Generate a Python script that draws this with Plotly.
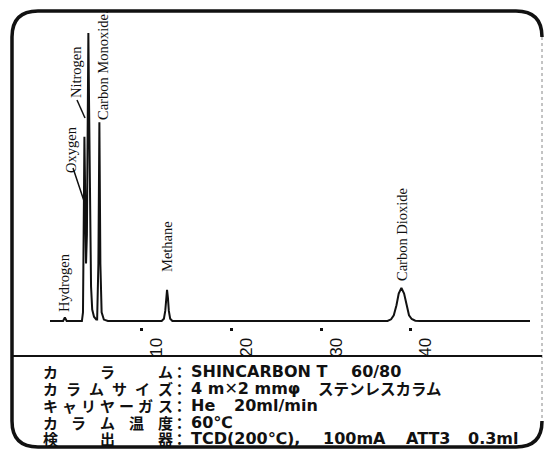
import plotly.graph_objects as go

# ---------------- data ----------------
time_min = [-0.3, 1.2, 1.4, 1.6, 3.3, 3.42, 3.52, 3.58, 3.66, 3.76, 3.86, 3.95, 4.02,
            4.1, 4.2, 4.32, 4.45, 4.65, 4.9, 5.0, 5.14, 5.25, 5.36, 5.5, 5.75, 6.2,
            12.2, 12.45, 12.6, 12.7, 12.8, 12.9, 13.0, 13.15, 13.4,
            37.4, 37.8, 38.1, 38.4, 38.65, 38.95, 39.25, 39.5, 39.8, 40.1, 40.5, 41.0, 53.3]
signal = [0, 0, 1.2, 0, 0, 3, 40, 64, 45, 20, 30, 85, 100,
          75, 35, 12, 4, 1.5, 0.5, 0.5, 20, 69, 20, 3, 0.5, 0,
          0, 0.8, 3.5, 8, 10.8, 8, 3.5, 0.8, 0,
          0, 0.6, 2, 5.5, 9.5, 11.5, 9.5, 5.5, 2, 0.7, 0.1, 0, 0]
assert len(time_min) == len(signal)

tick_vals = [10, 20, 30, 40]
tick_text = ["10", "20", "30", "40"]

peak_names = ["Hydrogen", "Oxygen", "Nitrogen", "Carbon Monoxide.", "Methane", "Carbon Dioxide"]

cond_labels = ["カラム", "カラムサイズ", "キャリヤーガス", "カラム温度", "検出器"]
cond_values = [["SHINCARBON T", "60/80"],
               ["4\u00a0m✕2\u00a0mmφ", "ステンレスカラム"],
               ["He", "20ml/min"],
               ["60℃"],
               ["TCD(200℃),", "100mA", "ATT3", "0.3ml"]]

# ---------------- layout geometry (pixels) ----------------
W, H = 545, 450
ML, MR, MT, MB = 50, 15, 20, 123
PW, PH = W - ML - MR, H - MT - MB


def px(x):
    return (x - ML) / PW


def py(y):
    return (H - MB - y) / PH


fig = go.Figure()
fig.add_trace(go.Scatter(x=time_min, y=signal, mode="lines",
                         line=dict(color="#111111", width=2), hoverinfo="skip",
                         showlegend=False))

ann = []
serif = dict(family="Liberation Serif, Times New Roman, serif", size=14.5, color="#111111")
label_pos = [(64, 283), (71, 150), (76, 72), (103, 65), (167, 247), (402, 235)]
for name, (lx, ly) in zip(peak_names, label_pos):
    ann.append(dict(x=px(lx), y=py(ly), xref="paper", yref="paper", text=name,
                    textangle=-90, showarrow=False, font=serif,
                    xanchor="center", yanchor="middle"))

# condition table
row_y = [371, 388, 405, 422, 438]
seg_x = [[190, 350], [190, 317], [190, 233], [190], [190, 322, 405, 467]]
jp = dict(family="Noto Sans CJK JP", size=15, color="#111111", weight="bold")
val_font = dict(family="DejaVu Sans, Noto Sans CJK JP", size=16, color="#111111", weight="bold")
jp_val = dict(family="Noto Sans CJK JP", size=15.5, color="#111111", weight="bold")
for lab, vals, xs, ry in zip(cond_labels, cond_values, seg_x, row_y):
    n = len(lab)
    x0, x1 = 50, 165
    for i, ch in enumerate(lab):
        cx = x0 + (x1 - x0) * i / (n - 1)
        ann.append(dict(x=px(cx), y=py(ry), xref="paper", yref="paper", text=ch,
                        showarrow=False, font=jp, xanchor="center", yanchor="middle",
                        borderpad=0))
    ann.append(dict(x=px(179), y=py(ry), xref="paper", yref="paper", text="：",
                    showarrow=False, font=jp, xanchor="center", yanchor="middle",
                    borderpad=0))
    for v, sx in zip(vals, xs):
        f = jp_val if v == "ステンレスカラム" else val_font
        ann.append(dict(x=px(sx), y=py(ry), xref="paper", yref="paper", text=v,
                        showarrow=False, font=f, xanchor="left", yanchor="middle",
                        borderpad=0))

shapes = []
# leader lines
for (a, b) in [((73, 168), (84, 201)), ((77, 100), (85, 118))]:
    shapes.append(dict(type="line", xref="paper", yref="paper",
                       x0=px(a[0]), y0=py(a[1]), x1=px(b[0]), y1=py(b[1]),
                       line=dict(color="#111111", width=1.5)))

# rounded frame (left/top/bottom heavy)
L, R, T, B, r = 12, 542, 11, 447, 26


def P(x, y):
    return f"{px(x):.5f},{py(y):.5f}"


path = (f"M {P(R, T + r)} Q {P(R, T)} {P(R - r, T)} L {P(L + r, T)} "
        f"Q {P(L, T)} {P(L, T + r)} L {P(L, B - r)} Q {P(L, B)} {P(L + r, B)} "
        f"L {P(R - r, B)} Q {P(R, B)} {P(R, B - r)}")
shapes.append(dict(type="path", xref="paper", yref="paper", path=path,
                   line=dict(color="#111111", width=3.5)))
shapes.append(dict(type="line", xref="paper", yref="paper",
                   x0=px(R), y0=py(T + r), x1=px(R), y1=py(B - r),
                   line=dict(color="#888888", width=1, dash="dot")))
# separator
shapes.append(dict(type="line", xref="paper", yref="paper",
                   x0=px(L), y0=py(356), x1=px(R), y1=py(356),
                   line=dict(color="#111111", width=2)))

fig.update_layout(
    width=W, height=H, autosize=False,
    margin=dict(l=ML, r=MR, t=MT, b=MB),
    paper_bgcolor="white", plot_bgcolor="white",
    annotations=ann, shapes=shapes, showlegend=False,
    xaxis=dict(range=[-0.26, 53.3], tickvals=tick_vals, ticktext=tick_text,
               tickangle=-90, ticks="outside", ticklen=3, tickwidth=3,
               tickcolor="#111111", ticklabelshift=15,
               tickfont=dict(family="Liberation Sans, Arial, sans-serif", size=17, color="#111111"),
               showgrid=False, zeroline=False, showline=False, fixedrange=True),
    yaxis=dict(range=[-2.08, 104.5], visible=False, showgrid=False, zeroline=False,
               fixedrange=True),
)

fig.write_html("out.html", config={"displayModeBar": False},
               post_script="document.body.style.margin='0';document.body.style.overflow='hidden';")
